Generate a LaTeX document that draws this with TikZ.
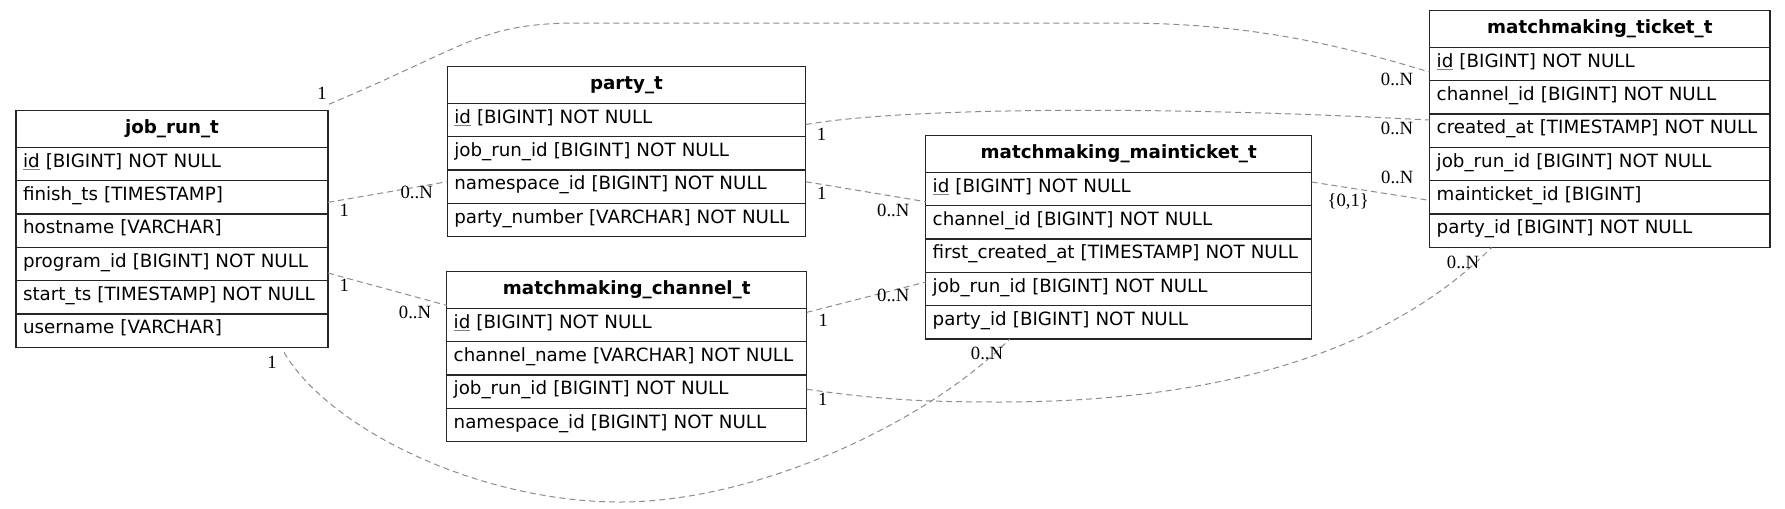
\documentclass[tikz,border=0pt]{standalone}
\usepackage{fontspec}
\setmainfont{DejaVu Sans}
\newfontfamily\lblfont{Liberation Serif}
\usetikzlibrary{positioning,calc}
\newcommand\pkey[1]{{\color{black!50}\underline{\color{black}#1}}}

\begin{document}
\begin{tikzpicture}[x=0.75pt,y=-0.75pt,node distance=0pt,font=\fontsize{13.7pt}{17pt}\selectfont]
\tikzset{hdr/.style={draw=black!85,line width=1pt,outer sep=0pt,anchor=north west,minimum width=#1,
    minimum height=27.5pt,inner sep=0pt,font=\fontsize{13.7pt}{17pt}\selectfont\bfseries,
    text height=10.5pt,text depth=4pt}}
\tikzset{fld/.style={draw=black!85,line width=1pt,outer sep=0pt,minimum height=25pt,inner xsep=5.25pt,
    inner ysep=0pt,text width=#1,text height=10pt,text depth=5.5pt,
    execute at begin node=\hbox\bgroup,execute at end node=\egroup}}
\tikzset{rel/.style={draw=black!45,line width=0.75pt,dash pattern=on 4.5pt off 3pt},
    card/.style={inner sep=0pt,font=\lblfont\fontsize{14pt}{17pt}\selectfont}}

\fill[white] (0,0) rectangle (1785,508);
\useasboundingbox (0,0) rectangle (1785,508);

% job_run_t
\node[hdr=234pt] (jr) at (16,110.7) {job\_run\_t};
\node[fld=223.5pt,below=of jr] (jr-id) {\pkey{id} [BIGINT] NOT NULL};
\node[fld=223.5pt,below=of jr-id] (jr-fin) {finish\_ts [TIMESTAMP]};
\node[fld=223.5pt,below=of jr-fin] (jr-host) {hostname [VARCHAR]};
\node[fld=223.5pt,below=of jr-host] (jr-prog) {program\_id [BIGINT] NOT NULL};
\node[fld=223.5pt,below=of jr-prog] (jr-start) {start\_ts [TIMESTAMP] NOT NULL};
\node[fld=223.5pt,below=of jr-start] (jr-user) {username [VARCHAR]};

% party_t
\node[hdr=268.8pt] (pt) at (447.3,66.7) {party\_t};
\node[fld=258.3pt,below=of pt] (pt-id) {\pkey{id} [BIGINT] NOT NULL};
\node[fld=258.3pt,below=of pt-id] (pt-jr) {job\_run\_id [BIGINT] NOT NULL};
\node[fld=258.3pt,below=of pt-jr] (pt-ns) {namespace\_id [BIGINT] NOT NULL};
\node[fld=258.3pt,below=of pt-ns] (pt-num) {party\_number [VARCHAR] NOT NULL};

% matchmaking_channel_t
\node[hdr=270pt] (ch) at (446.7,271.7) {matchmaking\_channel\_t};
\node[fld=259.5pt,below=of ch] (ch-id) {\pkey{id} [BIGINT] NOT NULL};
\node[fld=259.5pt,below=of ch-id] (ch-name) {channel\_name [VARCHAR] NOT NULL};
\node[fld=259.5pt,below=of ch-name] (ch-jr) {job\_run\_id [BIGINT] NOT NULL};
\node[fld=259.5pt,below=of ch-jr] (ch-ns) {namespace\_id [BIGINT] NOT NULL};

% matchmaking_mainticket_t
\node[hdr=289.5pt] (mt) at (925.7,135.7) {matchmaking\_mainticket\_t};
\node[fld=279pt,below=of mt] (mt-id) {\pkey{id} [BIGINT] NOT NULL};
\node[fld=279pt,below=of mt-id] (mt-ch) {channel\_id [BIGINT] NOT NULL};
\node[fld=279pt,below=of mt-ch] (mt-first) {first\_created\_at [TIMESTAMP] NOT NULL};
\node[fld=279pt,below=of mt-first] (mt-jr) {job\_run\_id [BIGINT] NOT NULL};
\node[fld=279pt,below=of mt-jr] (mt-party) {party\_id [BIGINT] NOT NULL};

% matchmaking_ticket_t
\node[hdr=255.2pt] (tk) at (1429.7,10.7) {matchmaking\_ticket\_t};
\node[fld=244.7pt,below=of tk] (tk-id) {\pkey{id} [BIGINT] NOT NULL};
\node[fld=244.7pt,below=of tk-id] (tk-ch) {channel\_id [BIGINT] NOT NULL};
\node[fld=244.7pt,below=of tk-ch] (tk-created) {created\_at [TIMESTAMP] NOT NULL};
\node[fld=244.7pt,below=of tk-created] (tk-jr) {job\_run\_id [BIGINT] NOT NULL};
\node[fld=244.7pt,below=of tk-jr] (tk-main) {mainticket\_id [BIGINT]};
\node[fld=244.7pt,below=of tk-main] (tk-party) {party\_id [BIGINT] NOT NULL};

% relations
\draw[rel] ($(jr.north east)+(1,-6.5)$) .. controls (470,45) and (480,23) .. (580,23)
    -- (1120,23) .. controls (1250,23) and (1340,45) .. ($(tk-id.west)+(0,8)$);
\draw[rel] ($(pt-id.east)+(0,4.5)$) .. controls (900,108) and (1150,105) .. ($(tk-created.north west)+(0,6)$);
\draw[rel] ($(jr-fin.east)+(0,5)$) -- ($(pt-ns.west)+(0,-5)$);
\draw[rel] ($(jr-prog.east)+(0,9)$) -- ($(ch.south west)+(0,-3)$);
\draw[rel] ($(jr-user.south east)+(-44,5)$) .. controls (330,430) and (480,502) .. (620,502)
    .. controls (760,502) and (930,420) .. ($(mt-party.south west)+(84,0)$);
\draw[rel] ($(ch-jr.east)+(0,-2.5)$) .. controls (880,400) and (930,402) .. (1000,402)
    .. controls (1200,402) and (1380,360) .. ($(tk-party.south west)+(62,0)$);
\draw[rel] ($(pt-ns.east)+(0,-5)$) -- ($(mt-id.south west)+(0,-4)$);
\draw[rel] ($(ch-id.north east)+(0,4)$) -- ($(mt-jr.west)+(0,-7)$);
\draw[rel] ($(mt-id.east)+(0,-7)$) -- ($(tk-main.west)+(0,3)$);

% cardinalities
\node[card] (c1a) at (322,93) {1};
\node[card] (c1b) at (1397,79) {0..N};
\node[card] (c2a) at (821.5,134) {1};
\node[card] (c2b) at (1397,128.3) {0..N};
\node[card] (c3a) at (344.3,210) {1};
\node[card] (c3b) at (416.7,192.7) {0..N};
\node[card] (c4a) at (344.3,285) {1};
\node[card] (c4b) at (415,312.7) {0..N};
\node[card] (c5a) at (272,362) {1};
\node[card] (c5b) at (987,353) {0..N};
\node[card] (c6a) at (822.7,399.3) {1};
\node[card] (c6b) at (1463,262) {0..N};
\node[card] (c7a) at (821.7,193.3) {1};
\node[card] (c7b) at (893.3,210) {0..N};
\node[card] (c8a) at (823.3,320) {1};
\node[card] (c8b) at (893.3,295) {0..N};
\node[card] (c9a) at (1348.3,201.7) {\{0,1\}};
\node[card] (c9b) at (1397.3,177.3) {0..N};
\end{tikzpicture}
\end{document}
